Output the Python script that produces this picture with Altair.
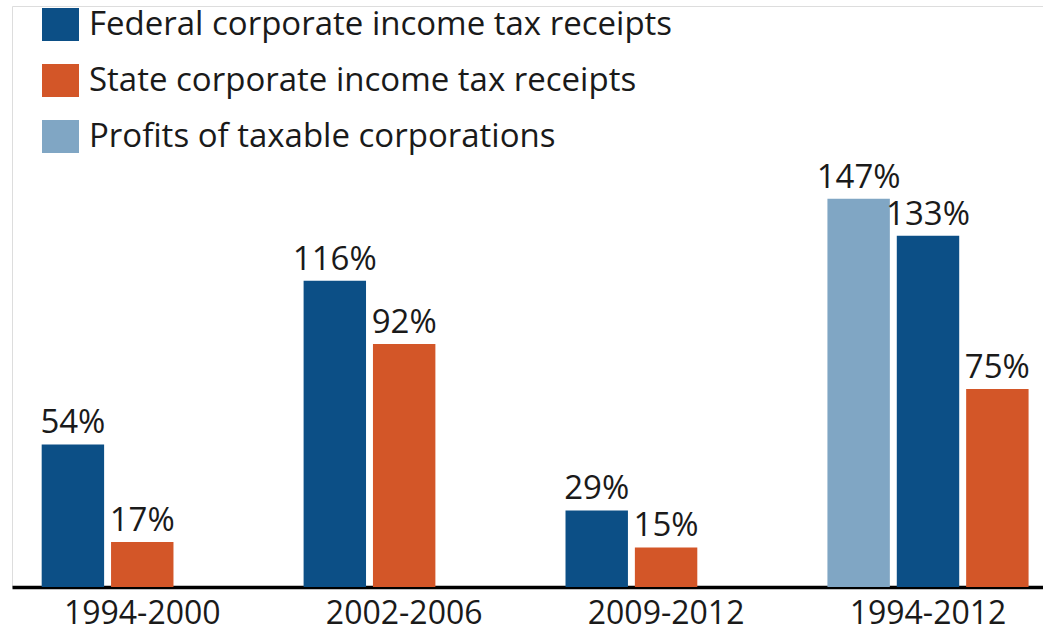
import altair as alt
import pandas as pd

periods = ["1994-2000", "2002-2006", "2009-2012", "1994-2012"]
federal = [54, 116, 29, 133]
state = [17, 92, 15, 75]
profits = [None, None, None, 147]

series_names = [
    "Federal corporate income tax receipts",
    "State corporate income tax receipts",
    "Profits of taxable corporations",
]
series_colors = ["#0C4F86", "#D35628", "#80A6C4"]

rows = []
for i, p in enumerate(periods):
    slot = 0
    if profits[i] is not None:
        rows.append({"period": p, "series": series_names[2], "value": profits[i], "slot": slot})
        slot += 1
    rows.append({"period": p, "series": series_names[0], "value": federal[i], "slot": slot})
    slot += 1
    rows.append({"period": p, "series": series_names[1], "value": state[i], "slot": slot})
df = pd.DataFrame(rows)

FONT = "Open Sans"
TEXT = "#1a1a1a"
FS = 33

x = alt.X(
    "period:N",
    sort=periods,
    scale=alt.Scale(paddingInner=0.232, paddingOuter=0.0842, align=0.673),
    axis=alt.Axis(
        title=None,
        labelAngle=0,
        labelFontSize=32,
        labelFont=FONT,
        labelColor=TEXT,
        labelPadding=11,
        ticks=False,
        domainColor="#000000",
        domainWidth=3.5,
    ),
)
xo = alt.XOffset("slot:O", scale=alt.Scale(domain=[0, 1, 2], paddingInner=0.1, paddingOuter=0))
y = alt.Y("value:Q", scale=alt.Scale(domain=[0, 220], nice=False), axis=None)

bars = alt.Chart(df).mark_bar().encode(
    x=x,
    xOffset=xo,
    y=y,
    color=alt.Color(
        "series:N",
        scale=alt.Scale(domain=series_names, range=series_colors),
        legend=alt.Legend(
            title=None,
            orient="none",
            legendX=30,
            legendY=0,
            direction="vertical",
            symbolType="M-1,-0.89H1V0.89H-1Z",
            symbolSize=1369,
            symbolStrokeWidth=0,
            symbolOpacity=1,
            labelFontSize=FS,
            labelFont=FONT,
            labelColor=TEXT,
            labelOffset=10,
            rowPadding=20,
            labelLimit=800,
            padding=0,
        ),
    ),
)

labels = alt.Chart(df).transform_calculate(
    label="datum.value + '%'"
).mark_text(
    fontSize=FS, font=FONT, color=TEXT, baseline="alphabetic", dy=-11, align="center"
).encode(
    x=x,
    xOffset=xo,
    y=y,
    text="label:N",
)

chart = (
    alt.layer(bars, labels)
    .properties(
        width=1031,
        height=581,
        autosize=alt.AutoSizeParams(type="none"),
        padding={"left": 12, "top": 6, "right": 0, "bottom": 47},
    )
    .configure_view(stroke=None)
    .configure(background="white")
)

chart.save("out.html", embed_options={"renderer": "svg", "actions": False})
